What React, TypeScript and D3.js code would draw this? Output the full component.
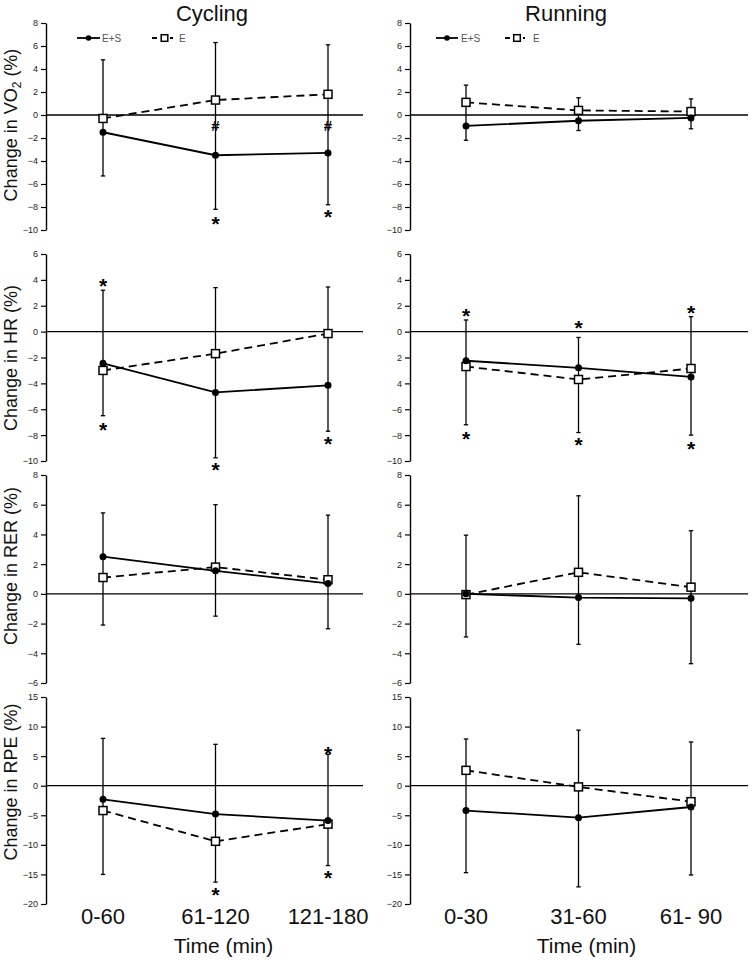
import React, { useEffect, useRef } from 'react';
import * as d3 from 'd3';

// time windows
const cyclingTimes = ['0-60', '61-120', '121-180'];
const runningTimes = ['0-30', '31-60', '61- 90'];

// Cycling VO2 (% change); E+S with lower error end, E with upper error end
const cycVo2ES = [-1.5, -3.5, -3.3];
const cycVo2ESLow = [-5.3, -8.2, -7.8];
const cycVo2E = [-0.3, 1.3, 1.8];
const cycVo2EHigh = [4.8, 6.3, 6.1];

// Running VO2
const runVo2ES = [-0.95, -0.5, -0.25];
const runVo2ESLow = [-2.2, -1.35, -1.2];
const runVo2E = [1.1, 0.4, 0.3];
const runVo2EHigh = [2.6, 1.5, 1.4];

// Cycling HR
const cycHrES = [-2.45, -4.7, -4.15];
const cycHrESLow = [-6.5, -9.75, -7.7];
const cycHrE = [-3.0, -1.7, -0.15];
const cycHrEHigh = [3.2, 3.4, 3.45];

// Running HR
const runHrES = [-2.25, -2.8, -3.5];
const runHrESLow = [-7.2, -7.8, -8.0];
const runHrE = [-2.7, -3.7, -2.85];
const runHrEHigh = [0.9, -0.45, 1.15];

// Cycling RER
const cycRerES = [2.5, 1.55, 0.7];
const cycRerESLow = [-2.1, -1.5, -2.35];
const cycRerE = [1.1, 1.8, 0.95];
const cycRerEHigh = [5.45, 6.0, 5.3];

// Running RER
const runRerES = [0.0, -0.25, -0.3];
const runRerESLow = [-2.9, -3.4, -4.7];
const runRerE = [-0.05, 1.45, 0.45];
const runRerEHigh = [3.95, 6.6, 4.25];

// Cycling RPE
const cycRpeES = [-2.3, -4.8, -5.9];
const cycRpeESLow = [-15.0, -16.3, -13.5];
const cycRpeE = [-4.2, -9.4, -6.5];
const cycRpeEHigh = [8.0, 7.0, 5.3];

// Running RPE
const runRpeES = [-4.2, -5.4, -3.6];
const runRpeESLow = [-14.7, -17.1, -15.1];
const runRpeE = [2.6, -0.2, -2.7];
const runRpeEHigh = [7.9, 9.4, 7.4];

// significance symbols: [time index, value, symbol]
const cycVo2Marks: [number, number, string][] = [[1, -0.9, '#'], [2, -0.9, '#'], [1, -9.05, '*'], [2, -8.4, '*']];
const cycHrMarks: [number, number, string][] = [[0, 3.9, '*'], [0, -7.2, '*'], [1, -10.3, '*'], [2, -8.3, '*']];
const runHrMarks: [number, number, string][] = [[0, 1.6, '*'], [0, -7.9, '*'], [1, 0.65, '*'], [1, -8.4, '*'], [2, 1.8, '*'], [2, -8.65, '*']];
const cycRpeMarks: [number, number, string][] = [[1, -17.6, '*'], [2, 6.2, '*'], [2, -14.7, '*']];

// y axis ticks per row
const vo2Ticks = [-10, -8, -6, -4, -2, 0, 2, 4, 6, 8];
const hrTicks = [-10, -8, -6, -4, -2, 0, 2, 4, 6];
const rerTicks = [-6, -4, -2, 0, 2, 4, 6, 8];
const rpeTicks = [-20, -15, -10, -5, 0, 5, 10, 15];
// the running HR panel prints these labels as they appear in the figure
const runHrTickLabels = ['−10', '−8', '−6', '4', '2', '0', '2', '4', '6'];

const rowLabels = ['VO', 'HR', 'RER', 'RPE'];
const FONT = "'Liberation Sans', Arial, sans-serif";

const App = () => {
  const ref = useRef<SVGSVGElement>(null);

  useEffect(() => {
    const svg = d3.select(ref.current);
    svg.selectAll('*').remove();

    const cols = [
      { title: 'Cycling', titleX: 212, axisX: 46, endX: 363, range: [103, 328], cats: cyclingTimes, leg: [77, 100, 102, 152, 173, 177] },
      { title: 'Running', titleX: 566, axisX: 410, endX: 748, range: [466, 691], cats: runningTimes, leg: [436, 458, 461, 505, 525, 531] },
    ];
    const rows = [
      { y: [230, 23], ticks: vo2Ticks, labelY: 125 },
      { y: [461, 254], ticks: hrTicks, labelY: 358 },
      { y: [683, 475], ticks: rerTicks, labelY: 566 },
      { y: [904, 697], ticks: rpeTicks, labelY: 782 },
    ];
    const panels = [
      [0, 0, cycVo2ES, cycVo2ESLow, cycVo2E, cycVo2EHigh, cycVo2Marks, null],
      [0, 1, runVo2ES, runVo2ESLow, runVo2E, runVo2EHigh, [], null],
      [1, 0, cycHrES, cycHrESLow, cycHrE, cycHrEHigh, cycHrMarks, null],
      [1, 1, runHrES, runHrESLow, runHrE, runHrEHigh, runHrMarks, runHrTickLabels],
      [2, 0, cycRerES, cycRerESLow, cycRerE, cycRerEHigh, [], null],
      [2, 1, runRerES, runRerESLow, runRerE, runRerEHigh, [], null],
      [3, 0, cycRpeES, cycRpeESLow, cycRpeE, cycRpeEHigh, cycRpeMarks, null],
      [3, 1, runRpeES, runRpeESLow, runRpeE, runRpeEHigh, [], null],
    ] as any[];

    panels.forEach(([ri, ci, es, esLow, e, eHigh, marks, tickLabels]) => {
      const row = rows[ri];
      const col = cols[ci];
      const g = svg.append('g');

      const x = d3.scalePoint<string>().domain(col.cats).range(col.range as [number, number]);
      const y = d3.scaleLinear()
        .domain([row.ticks[0], row.ticks[row.ticks.length - 1]])
        .range(row.y);

      // y axis
      const axis = d3.axisLeft(y)
        .tickValues(row.ticks)
        .tickSize(5)
        .tickSizeOuter(0)
        .tickPadding(3)
        .tickFormat((d, i) => (tickLabels ? tickLabels[i] : d3.format('')(d as number)));
      const ax = g.append('g').attr('transform', `translate(${col.axisX},0)`).call(axis);
      ax.select('.domain').attr('stroke', '#000').attr('stroke-width', 1.4);
      ax.selectAll('.tick line').attr('stroke', '#000').attr('stroke-width', 1.2);
      ax.selectAll('.tick text')
        .attr('font-family', FONT)
        .attr('font-size', 9)
        .attr('fill', '#222');

      // error bars
      const bars = col.cats.map((c: string, i: number) => ({ c, lo: esLow[i], hi: eHigh[i] }));
      bars.forEach((b: any) => {
        const cx = x(b.c)!;
        g.append('line')
          .attr('x1', cx).attr('x2', cx)
          .attr('y1', y(b.lo)).attr('y2', y(b.hi))
          .attr('stroke', '#000').attr('stroke-width', 1.3);
        [b.lo, b.hi].forEach((v: number) => {
          g.append('line')
            .attr('x1', cx - 2.2).attr('x2', cx + 2.2)
            .attr('y1', y(v)).attr('y2', y(v))
            .attr('stroke', '#000').attr('stroke-width', 1.3);
        });
      });

      // zero line
      g.append('line')
        .attr('x1', col.axisX).attr('x2', col.endX)
        .attr('y1', y(0)).attr('y2', y(0))
        .attr('stroke', '#000').attr('stroke-width', 1.3);

      const line = d3.line<number>()
        .x((_, i) => x(col.cats[i])!)
        .y(d => y(d));

      g.append('path')
        .attr('d', line(e))
        .attr('fill', 'none')
        .attr('stroke', '#000')
        .attr('stroke-width', 1.8)
        .attr('stroke-dasharray', '8,5');
      g.append('path')
        .attr('d', line(es))
        .attr('fill', 'none')
        .attr('stroke', '#000')
        .attr('stroke-width', 1.8);

      g.selectAll('.sq')
        .data(e)
        .enter()
        .append('rect')
        .attr('x', (_, i) => x(col.cats[i])! - 4)
        .attr('y', d => y(d as number) - 4)
        .attr('width', 8)
        .attr('height', 8)
        .attr('fill', '#fff')
        .attr('stroke', '#000')
        .attr('stroke-width', 1.5);
      g.selectAll('.dot')
        .data(es)
        .enter()
        .append('circle')
        .attr('cx', (_, i) => x(col.cats[i])!)
        .attr('cy', d => y(d as number))
        .attr('r', 3.5)
        .attr('fill', '#000');

      // significance symbols
      (marks as [number, number, string][]).forEach(([i, v, s]) => {
        const fs = s === '*' ? 21 : 15;
        const off = s === '*' ? 0.575 : 0.36;
        g.append('text')
          .attr('x', x(col.cats[i])!)
          .attr('y', y(v) + off * fs)
          .attr('text-anchor', 'middle')
          .attr('font-family', FONT)
          .attr('font-weight', 'bold')
          .attr('font-size', fs)
          .text(s);
      });

      // y label (left column only)
      if (ci === 0) {
        const t = g.append('text')
          .attr('transform', `translate(17,${row.labelY}) rotate(-90)`)
          .attr('text-anchor', 'middle')
          .attr('font-family', FONT)
          .attr('font-size', 18)
          .attr('fill', '#111');
        t.append('tspan').text(`Change in ${rowLabels[ri]}`);
        if (ri === 0) {
          t.append('tspan').attr('font-size', 12).attr('dy', 4).text('2');
          t.append('tspan').attr('dy', -4).text(' (%)');
        } else {
          t.append('tspan').text(' (%)');
        }
      }

      // legend in top row
      if (ri === 0) {
        const [l1, l2, t1, l3, l4, t2] = col.leg;
        const ly = 38;
        g.append('line').attr('x1', l1).attr('x2', l2).attr('y1', ly).attr('y2', ly)
          .attr('stroke', '#000').attr('stroke-width', 1.8);
        g.append('circle').attr('cx', (l1 + l2) / 2).attr('cy', ly).attr('r', 2.8).attr('fill', '#000');
        g.append('text').attr('x', t1).attr('y', ly + 3.5).attr('font-family', FONT)
          .attr('font-size', 10).attr('fill', '#555').text('E+S');
        g.append('line').attr('x1', l3).attr('x2', l4).attr('y1', ly).attr('y2', ly)
          .attr('stroke', '#000').attr('stroke-width', 1.8).attr('stroke-dasharray', '5,4');
        const sx = (l3 + l4) / 2 + 2;
        g.append('rect').attr('x', sx - 3.3).attr('y', ly - 3.3).attr('width', 6.6).attr('height', 6.6)
          .attr('fill', '#fff').attr('stroke', '#000').attr('stroke-width', 1.5);
        g.append('text').attr('x', t2 + 2).attr('y', ly + 3.5).attr('font-family', FONT)
          .attr('font-size', 10).attr('fill', '#555').text('E');
      }

      // bottom row: category labels and axis title
      if (ri === 3) {
        g.selectAll('.cat')
          .data(col.cats)
          .enter()
          .append('text')
          .attr('x', d => x(d as string)!)
          .attr('y', 924)
          .attr('text-anchor', 'middle')
          .attr('font-family', FONT)
          .attr('font-size', 22)
          .attr('fill', '#111')
          .text(d => d as string);
        g.append('text')
          .attr('x', x(col.cats[1])! + 8)
          .attr('y', 953)
          .attr('text-anchor', 'middle')
          .attr('font-family', FONT)
          .attr('font-size', 21)
          .attr('fill', '#111')
          .text('Time (min)');
      }
    });

    // column titles
    cols.forEach(col => {
      svg.append('text')
        .attr('x', col.titleX)
        .attr('y', 21)
        .attr('text-anchor', 'middle')
        .attr('font-family', FONT)
        .attr('font-size', 22)
        .attr('fill', '#111')
        .text(col.title);
    });
  }, []);

  return (
    <svg
      ref={ref}
      width={756}
      height={962}
      style={{ position: 'absolute', left: 0, top: 0, background: '#fff' }}
    />
  );
};

export default App;
